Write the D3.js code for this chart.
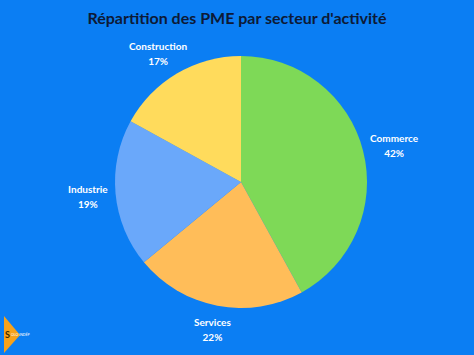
<!DOCTYPE html>
<html><head><meta charset="utf-8">
<script src="https://cdn.jsdelivr.net/npm/d3@7"></script>
<style>html,body{margin:0;padding:0;background:#0b7ef3;}svg{display:block;}</style>
</head><body>
<svg id="c" width="474" height="355"></svg>
<script>
const categories = ["Commerce", "Services", "Industrie", "Construction"];
const values = [42, 22, 19, 17];
const colors = ["#7ed957", "#ffbd59", "#6aa8fa", "#ffdb5c"];
const title = "Répartition des PME par secteur d'activité";

const W = 474, H = 355, cx = 241, cy = 182, R = 126, LR = R + 8, BH = 32;
const svg = d3.select("#c");
svg.append("rect").attr("width", W).attr("height", H).attr("fill", "#0b7ef3");

svg.append("text").attr("x", 237).attr("y", 24).attr("text-anchor", "middle")
  .attr("font-family", "Lato, sans-serif").attr("font-weight", 700).attr("font-size", 16)
  .attr("fill", "#0d1a36").text(title);

const data = categories.map((c, i) => ({ c, v: values[i], col: colors[i] }));
const pie = d3.pie().value(d => d.v).sort(null);
const arc = d3.arc().innerRadius(0).outerRadius(R);
const arcs = pie(data);
const g = svg.append("g").attr("transform", `translate(${cx},${cy})`);
g.selectAll("path").data(arcs).join("path").attr("d", arc).attr("fill", d => d.data.col);

const labelArc = d3.arc().innerRadius(LR).outerRadius(LR);
const lab = g.selectAll("g.l").data(arcs).join("g").attr("class", "l");
lab.append("text").attr("y", -3).attr("text-anchor", "middle")
  .attr("font-family", "Lato, sans-serif").attr("font-weight", 700).attr("font-size", 10)
  .attr("fill", "#fff").text(d => d.data.c);
lab.append("text").attr("y", 12).attr("text-anchor", "middle")
  .attr("font-family", "Lato, sans-serif").attr("font-weight", 700).attr("font-size", 10)
  .attr("fill", "#fff").text(d => d.data.v + "%");
lab.attr("transform", function(d) {
  const [x, y] = labelArc.centroid(d);
  const a = (d.startAngle + d.endAngle) / 2;
  const w = this.querySelector("text").getComputedTextLength();
  return `translate(${x + Math.sin(a) * w / 2},${y - Math.cos(a) * BH / 2})`;
});

// logo
const logo = svg.append("g");
logo.append("path").attr("d", "M4,316 L20,335 L4,353 Z").attr("fill", "#f7a21b");
logo.append("text").attr("x", 5).attr("y", 338).attr("font-family", "Lato, sans-serif")
  .attr("font-weight", 700).attr("font-size", 9).attr("fill", "#3b2a00").text("S");
logo.append("text").attr("x", 11).attr("y", 336).attr("font-family", "Lato, sans-serif")
  .attr("font-size", 3.5).attr("fill", "#fff").text("OLO INDÉP");
</script>
</body></html>
